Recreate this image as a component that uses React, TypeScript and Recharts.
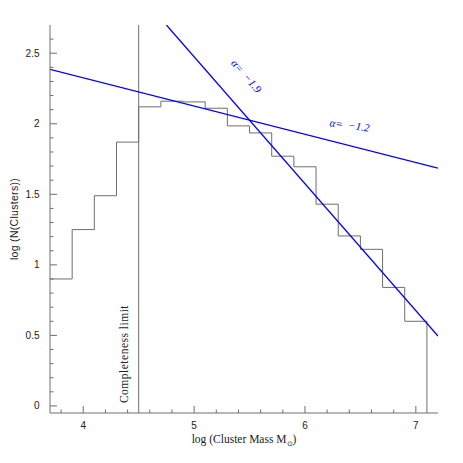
import React from 'react';
import { ComposedChart, Line, XAxis, YAxis, ReferenceLine, ReferenceDot } from 'recharts';

// Histogram: left edge of each log-mass bin and log N(clusters) of that bin
const binStarts = [3.7, 3.9, 4.1, 4.3, 4.5, 4.7, 4.9, 5.1, 5.3, 5.5, 5.7, 5.9, 6.1, 6.3, 6.5, 6.7, 6.9, 7.1];
const logCounts = [0.9, 1.25, 1.49, 1.87, 2.12, 2.16, 2.155, 2.11, 1.985, 1.935, 1.77, 1.695, 1.43, 1.205, 1.11, 0.84, 0.6, -0.05];

// Power-law fits (endpoints)
const fit12X = [3.7, 7.2];
const fit12Y = [2.386, 1.686];
const fit19X = [4.75, 7.2];
const fit19Y = [2.7, 0.496];

const completenessLimit = 4.5;

const xTicks = [3.8, 4, 4.2, 4.4, 4.6, 4.8, 5, 5.2, 5.4, 5.6, 5.8, 6, 6.2, 6.4, 6.6, 6.8, 7];
const xMajor = [4, 5, 6, 7];
const yTicks = [0, 0.1, 0.2, 0.3, 0.4, 0.5, 0.6, 0.7, 0.8, 0.9, 1, 1.1, 1.2, 1.3, 1.4, 1.5, 1.6, 1.7, 1.8, 1.9, 2, 2.1, 2.2, 2.3, 2.4, 2.5, 2.6];
const yMajor = [0, 0.5, 1, 1.5, 2, 2.5];

const histData = binStarts.map((x, i) => ({ x, y: logCounts[i] }));
const fit12Data = fit12X.map((x, i) => ({ x, y: fit12Y[i] }));
const fit19Data = fit19X.map((x, i) => ({ x, y: fit19Y[i] }));

const FRAME = '#6e6e6e';
const BLUE = '#0000ff';
const TICKFONT = '"Liberation Sans", Arial, sans-serif';
const SERIF = '"Liberation Serif", "Times New Roman", serif';

const BottomTick = (p: any) => {
  const v = p.payload.value;
  const major = xMajor.includes(v);
  return (
    <g>
      <line x1={p.x} x2={p.x} y1={p.y} y2={p.y - (major ? 7 : 3.5)} stroke={FRAME} />
      {major && (
        <text x={p.x} y={p.y + 15.5} textAnchor="middle" fontSize={10} fontFamily={TICKFONT} fill="#222">
          {String(v)}
        </text>
      )}
    </g>
  );
};
const TopTick = (p: any) => {
  const v = p.payload.value;
  const major = xMajor.includes(v);
  return <line x1={p.x} x2={p.x} y1={p.y} y2={p.y + (major ? 7 : 3.5)} stroke={FRAME} />;
};
const LeftTick = (p: any) => {
  const v = p.payload.value;
  const major = yMajor.includes(v);
  return (
    <g>
      <line x1={p.x} x2={p.x + (major ? 7 : 3.5)} y1={p.y} y2={p.y} stroke={FRAME} />
      {major && (
        <text x={p.x - 10.5} y={p.y + 3.5} textAnchor="end" fontSize={10} fontFamily={TICKFONT} fill="#222">
          {String(v)}
        </text>
      )}
    </g>
  );
};
const RightTick = (p: any) => {
  const v = p.payload.value;
  const major = yMajor.includes(v);
  return <line x1={p.x} x2={p.x - (major ? 7 : 3.5)} y1={p.y} y2={p.y} stroke={FRAME} />;
};

const XTitle = (p: any) => {
  const vb = p.viewBox;
  return (
    <text x={vb.x + vb.width / 2} y={vb.y + 30} textAnchor="middle" fontSize={11.5} fontFamily={SERIF} fill="#222">
      log (Cluster Mass M
      <tspan fontSize={7} dy={2.5}>⊙</tspan>
      <tspan dy={-2.5}>)</tspan>
    </text>
  );
};
const YTitle = (p: any) => {
  const vb = p.viewBox;
  const cx = 10;
  const cy = vb.y + vb.height / 2;
  return (
    <text x={cx} y={cy} transform={`rotate(-90, ${cx}, ${cy})`} textAnchor="middle" fontSize={10.5} fontFamily={TICKFONT} fill="#222" letterSpacing={0.3}>
      log (N(Clusters))
    </text>
  );
};
const CompLabel = (p: any) => {
  const vb = p.viewBox;
  const cx = vb.x - 11;
  const cy = vb.y + vb.height - 59;
  return (
    <text x={cx} y={cy} transform={`rotate(-90, ${cx}, ${cy})`} textAnchor="middle" fontSize={11.5} fontFamily={SERIF} fill="#222" letterSpacing={0.5}>
      Completeness limit
    </text>
  );
};
const alphaShape = (text: string, angle: number) => (p: any) => (
  <text
    x={p.cx}
    y={p.cy}
    transform={`rotate(${angle}, ${p.cx}, ${p.cy})`}
    textAnchor="middle"
    dominantBaseline="central"
    fontSize={11}
    fontStyle="italic"
    fontFamily={SERIF}
    fill={BLUE}
    style={{ whiteSpace: 'pre' }}
  >
    {text}
  </text>
);

export default function App() {
  return (
    <ComposedChart width={455} height={455} margin={{ top: 17, right: 25, bottom: 0, left: 0 }}>
      <XAxis
        xAxisId="b"
        type="number"
        dataKey="x"
        domain={[3.7, 7.2]}
        allowDataOverflow
        ticks={xTicks}
        interval={0}
        tickLine={false}
        tickSize={0}
        tickMargin={0}
        tick={BottomTick}
        axisLine={{ stroke: FRAME }}
        height={50}
        label={<XTitle />}
      />
      <XAxis
        xAxisId="t"
        orientation="top"
        type="number"
        dataKey="x"
        domain={[3.7, 7.2]}
        allowDataOverflow
        ticks={xTicks}
        interval={0}
        tickLine={false}
        tickSize={0}
        tickMargin={0}
        tick={TopTick}
        axisLine={{ stroke: FRAME }}
        height={0}
      />
      <YAxis
        yAxisId="l"
        type="number"
        domain={[-0.05, 2.7]}
        allowDataOverflow
        ticks={yTicks}
        interval={0}
        tickLine={false}
        tickSize={0}
        tickMargin={0}
        tick={LeftTick}
        axisLine={{ stroke: FRAME }}
        width={42}
        label={<YTitle />}
      />
      <YAxis
        yAxisId="r"
        orientation="right"
        type="number"
        domain={[-0.05, 2.7]}
        allowDataOverflow
        ticks={yTicks}
        interval={0}
        tickLine={false}
        tickSize={0}
        tickMargin={0}
        tick={RightTick}
        axisLine={{ stroke: FRAME }}
        width={0}
      />
      <ReferenceLine
        xAxisId="b"
        yAxisId="l"
        x={completenessLimit}
        stroke={FRAME}
        strokeWidth={1}
        label={<CompLabel />}
      />
      <Line
        xAxisId="b"
        yAxisId="l"
        data={histData}
        dataKey="y"
        type="stepAfter"
        stroke={FRAME}
        strokeWidth={1}
        dot={false}
        activeDot={false}
        isAnimationActive={false}
      />
      <Line
        xAxisId="b"
        yAxisId="l"
        data={fit12Data}
        dataKey="y"
        type="linear"
        stroke={BLUE}
        strokeWidth={1.3}
        dot={false}
        activeDot={false}
        isAnimationActive={false}
      />
      <Line
        xAxisId="b"
        yAxisId="l"
        data={fit19Data}
        dataKey="y"
        type="linear"
        stroke={BLUE}
        strokeWidth={1.3}
        dot={false}
        activeDot={false}
        isAnimationActive={false}
      />
      <ReferenceDot xAxisId="b" yAxisId="l" x={5.473} y={2.339} r={0} shape={alphaShape('α=  −1.9', 49)} />
      <ReferenceDot xAxisId="b" yAxisId="l" x={6.403} y={1.991} r={0} shape={alphaShape('α=  −1.2', 8)} />
    </ComposedChart>
  );
}
